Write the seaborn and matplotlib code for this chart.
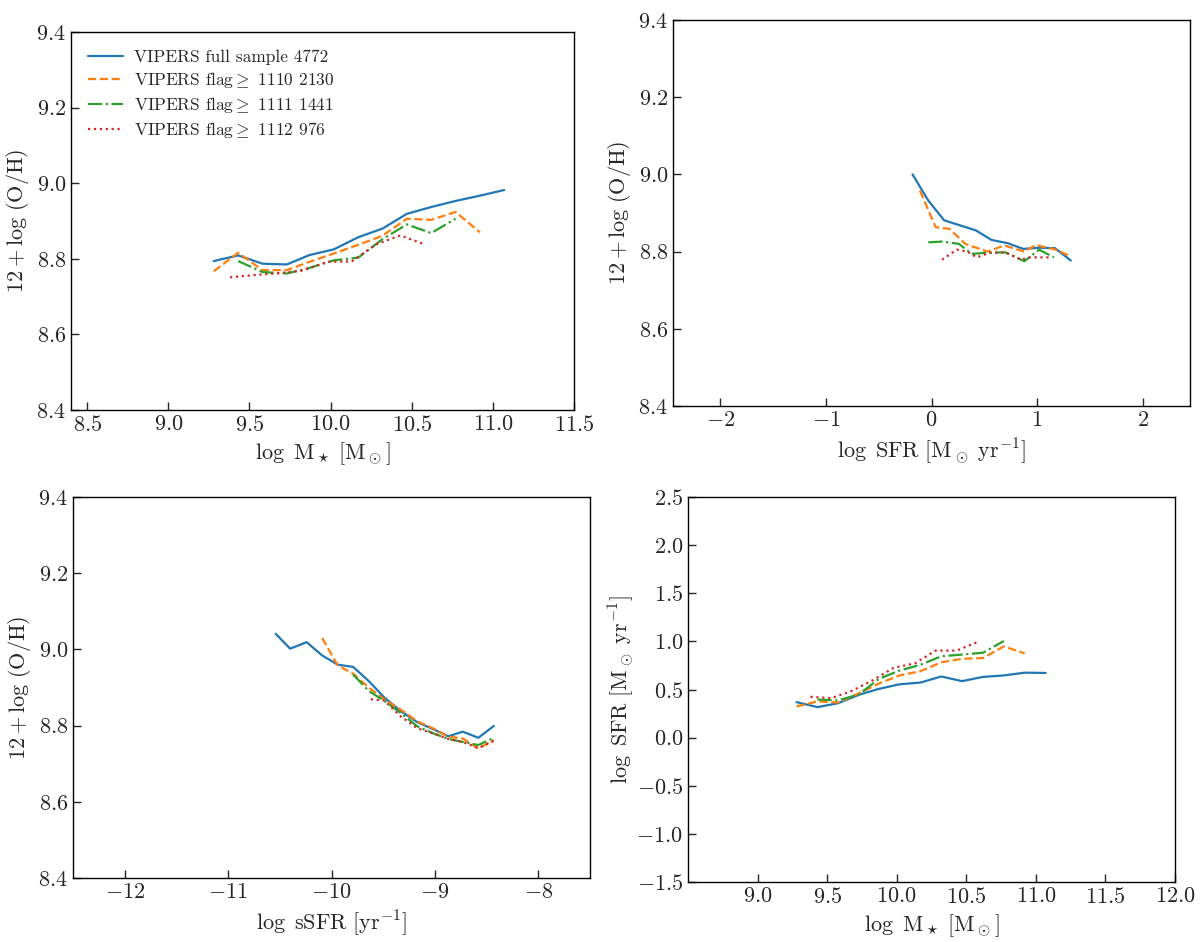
import matplotlib
matplotlib.use("Agg")
import matplotlib.pyplot as plt
import seaborn as sns
import pandas as pd

# ---- data ----
# top-left / bottom-right share the stellar-mass bins
mass_full = [9.28, 9.43, 9.58, 9.73, 9.87, 10.02, 10.17, 10.32, 10.47, 10.62, 10.77, 10.92, 11.07]
mass_1110 = [9.28, 9.43, 9.58, 9.73, 9.87, 10.02, 10.17, 10.32, 10.47, 10.62, 10.77, 10.92]
mass_1111 = [9.43, 9.58, 9.73, 9.87, 10.02, 10.17, 10.32, 10.47, 10.62, 10.77]
mass_1112 = [9.38, 9.53, 9.68, 9.83, 9.98, 10.13, 10.28, 10.43, 10.58]

oh_mass_full = [8.794, 8.809, 8.787, 8.785, 8.810, 8.825, 8.857, 8.880, 8.919, 8.937, 8.953, 8.967, 8.982]
oh_mass_1110 = [8.767, 8.816, 8.770, 8.770, 8.792, 8.814, 8.837, 8.861, 8.906, 8.903, 8.924, 8.870]
oh_mass_1111 = [8.794, 8.765, 8.761, 8.776, 8.796, 8.803, 8.852, 8.891, 8.868, 8.906]
oh_mass_1112 = [8.751, 8.757, 8.762, 8.769, 8.792, 8.793, 8.838, 8.862, 8.838]

sfr_full = [-0.18, -0.03, 0.12, 0.27, 0.42, 0.57, 0.72, 0.87, 1.02, 1.17, 1.32]
sfr_1110 = [-0.11, 0.04, 0.17, 0.32, 0.53, 0.69, 0.88, 0.99, 1.18, 1.32]
sfr_1111 = [-0.03, 0.10, 0.26, 0.38, 0.52, 0.70, 0.88, 1.02, 1.16]
sfr_1112 = [0.10, 0.24, 0.34, 0.43, 0.55, 0.70, 0.85, 0.93, 1.13]

oh_sfr_full = [9.000, 8.932, 8.881, 8.868, 8.855, 8.830, 8.822, 8.807, 8.810, 8.809, 8.777]
oh_sfr_1110 = [8.958, 8.863, 8.859, 8.820, 8.800, 8.816, 8.800, 8.817, 8.805, 8.787]
oh_sfr_1111 = [8.824, 8.826, 8.820, 8.794, 8.797, 8.798, 8.775, 8.805, 8.785]
oh_sfr_1112 = [8.779, 8.805, 8.800, 8.785, 8.797, 8.798, 8.779, 8.785, 8.785]

ssfr_full = [-10.54, -10.40, -10.24, -10.09, -9.94, -9.79, -9.64, -9.49, -9.33, -9.17, -9.02, -8.87, -8.73, -8.58, -8.43]
ssfr_1110 = [-10.09, -9.94, -9.79, -9.64, -9.49, -9.33, -9.17, -9.02, -8.87, -8.73, -8.58, -8.43]
ssfr_1111 = [-9.79, -9.64, -9.49, -9.33, -9.17, -9.02, -8.87, -8.73, -8.58, -8.43]
ssfr_1112 = [-9.62, -9.49, -9.33, -9.17, -9.02, -8.87, -8.73, -8.58, -8.43]

oh_ssfr_full = [9.041, 9.002, 9.019, 8.984, 8.960, 8.954, 8.917, 8.874, 8.838, 8.809, 8.791, 8.772, 8.784, 8.768, 8.799]
oh_ssfr_1110 = [9.030, 8.958, 8.936, 8.900, 8.869, 8.842, 8.811, 8.793, 8.771, 8.766, 8.740, 8.762]
oh_ssfr_1111 = [8.934, 8.891, 8.865, 8.833, 8.798, 8.780, 8.765, 8.757, 8.749, 8.768]
oh_ssfr_1112 = [8.869, 8.866, 8.824, 8.793, 8.780, 8.765, 8.757, 8.741, 8.760]

lsfr_mass_full = [0.369, 0.317, 0.358, 0.446, 0.506, 0.554, 0.572, 0.635, 0.587, 0.631, 0.646, 0.675, 0.672]
lsfr_mass_1110 = [0.325, 0.376, 0.365, 0.461, 0.561, 0.646, 0.690, 0.782, 0.819, 0.827, 0.948, 0.875]
lsfr_mass_1111 = [0.395, 0.387, 0.450, 0.609, 0.697, 0.756, 0.845, 0.863, 0.882, 1.004]
lsfr_mass_1112 = [0.424, 0.410, 0.487, 0.598, 0.727, 0.771, 0.904, 0.904, 0.993]

labels = [
    "VIPERS full sample 4772",
    r"VIPERS flag$\geq$ 1110 2130",
    r"VIPERS flag$\geq$ 1111 1441",
    r"VIPERS flag$\geq$ 1112 976",
]
colors = ["#1f77b4", "#ff7f0e", "#2ca02c", "#d62728"]
styles = ["-", "--", "-.", ":"]

sns.set_style("ticks")
plt.rcParams.update({
    "font.family": ["serif"],
    "font.serif": ["cmr10", "DejaVu Serif"],
    "mathtext.fontset": "cm",
    "axes.formatter.use_mathtext": True,
    "axes.unicode_minus": True,
    "axes.linewidth": 1.0,
    "axes.edgecolor": "black",
})

W, H = 1200, 942
fig = plt.figure(figsize=(W / 100, H / 100), dpi=100)


def add_panel(x0, x1, y0, y1):
    # pixel box (top-left origin) -> figure fraction
    return fig.add_axes([x0 / W, 1 - y1 / H, (x1 - x0) / W, (y1 - y0) / H])


ax1 = add_panel(71, 574, 32, 410)
ax2 = add_panel(673, 1190, 20, 406)
ax3 = add_panel(73, 590, 497, 878)
ax4 = add_panel(688, 1175, 497, 882)

panels = [
    (ax1, [mass_full, mass_1110, mass_1111, mass_1112],
     [oh_mass_full, oh_mass_1110, oh_mass_1111, oh_mass_1112]),
    (ax2, [sfr_full, sfr_1110, sfr_1111, sfr_1112],
     [oh_sfr_full, oh_sfr_1110, oh_sfr_1111, oh_sfr_1112]),
    (ax3, [ssfr_full, ssfr_1110, ssfr_1111, ssfr_1112],
     [oh_ssfr_full, oh_ssfr_1110, oh_ssfr_1111, oh_ssfr_1112]),
    (ax4, [mass_full, mass_1110, mass_1111, mass_1112],
     [lsfr_mass_full, lsfr_mass_1110, lsfr_mass_1111, lsfr_mass_1112]),
]

for ax, xs, ys in panels:
    for x, y, lab, c, ls in zip(xs, ys, labels, colors, styles):
        df = pd.DataFrame({"x": x, "y": y})
        sns.lineplot(data=df, x="x", y="y", ax=ax, color=c, linestyle=ls,
                     linewidth=1.6, label=lab, estimator=None, sort=False)
    ax.tick_params(direction="in", length=6, width=1, labelsize=16,
                   top=False, right=False)
    ax.get_legend().remove()

oh_label = r"$12+\log\,(\mathrm{O/H})$"
mass_label = r"$\log\ \mathrm{M}_\star\ [\mathrm{M}_\odot]$"

ax1.set_xlim(8.4, 11.5)
ax1.set_ylim(8.4, 9.4)
ax1.set_xticks([8.5, 9.0, 9.5, 10.0, 10.5, 11.0, 11.5])
ax1.set_yticks([8.4, 8.6, 8.8, 9.0, 9.2, 9.4])
ax1.set_xlabel(mass_label, fontsize=16)
ax1.set_ylabel(oh_label, fontsize=16)
ax1.legend(loc="upper left", frameon=False, fontsize=12.5, handlelength=2.0,
           borderaxespad=0.6, labelspacing=0.3, handletextpad=0.6)

ax2.set_xlim(-2.45, 2.45)
ax2.set_ylim(8.4, 9.4)
ax2.set_xticks([-2, -1, 0, 1, 2])
ax2.set_yticks([8.4, 8.6, 8.8, 9.0, 9.2, 9.4])
ax2.set_xlabel(r"$\log\ \mathrm{SFR}\ [\mathrm{M}_\odot\ \mathrm{yr}^{-1}]$", fontsize=16)
ax2.set_ylabel(oh_label, fontsize=16)

ax3.set_xlim(-12.5, -7.5)
ax3.set_ylim(8.4, 9.4)
ax3.set_xticks([-12, -11, -10, -9, -8])
ax3.set_yticks([8.4, 8.6, 8.8, 9.0, 9.2, 9.4])
ax3.set_xlabel(r"$\log\ \mathrm{sSFR}\ [\mathrm{yr}^{-1}]$", fontsize=16)
ax3.set_ylabel(oh_label, fontsize=16)

ax4.set_xlim(8.5, 12.0)
ax4.set_ylim(-1.5, 2.5)
ax4.set_xticks([9.0, 9.5, 10.0, 10.5, 11.0, 11.5, 12.0])
ax4.set_yticks([-1.5, -1.0, -0.5, 0.0, 0.5, 1.0, 1.5, 2.0, 2.5])
ax4.set_xlabel(mass_label, fontsize=16)
ax4.set_ylabel(r"$\log\ \mathrm{SFR}\ [\mathrm{M}_\odot\ \mathrm{yr}^{-1}]$", fontsize=16,
               labelpad=0)

for ax in (ax1, ax2, ax3):
    ax.yaxis.set_major_formatter(matplotlib.ticker.FormatStrFormatter("$%.1f$"))
ax1.xaxis.set_major_formatter(matplotlib.ticker.FormatStrFormatter("$%.1f$"))
ax4.xaxis.set_major_formatter(matplotlib.ticker.FormatStrFormatter("$%.1f$"))
ax4.yaxis.set_major_formatter(matplotlib.ticker.FormatStrFormatter("$%.1f$"))

fig.savefig("out.png", dpi=100)
